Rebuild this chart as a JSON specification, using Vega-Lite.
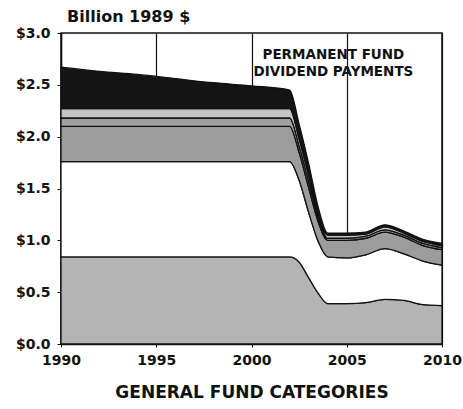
{
  "$schema": "https://vega.github.io/schema/vega-lite/v6.json",
  "width": 381,
  "height": 311,
  "autosize": {"type": "none"},
  "padding": {"left": 61, "top": 33, "right": 21, "bottom": 65},
  "background": "white",
  "config": {
    "view": {"stroke": "#111", "strokeWidth": 1.5},
    "font": "DejaVu Sans"
  },
  "title": {
    "text": "Billion 1989 $",
    "anchor": "start",
    "frame": "group",
    "dx": 6,
    "offset": 1,
    "font": "DejaVu Sans",
    "fontSize": 16,
    "fontWeight": "bold",
    "color": "#111"
  },
  "datasets": {
    "bands": [
      {"year": 1990, "cat": "A", "ord": 1, "v": 0.84},
      {"year": 1992, "cat": "A", "ord": 1, "v": 0.84},
      {"year": 1994, "cat": "A", "ord": 1, "v": 0.84},
      {"year": 1996, "cat": "A", "ord": 1, "v": 0.84},
      {"year": 1998, "cat": "A", "ord": 1, "v": 0.84},
      {"year": 2000, "cat": "A", "ord": 1, "v": 0.84},
      {"year": 2002, "cat": "A", "ord": 1, "v": 0.84},
      {"year": 2002.5, "cat": "A", "ord": 1, "v": 0.79},
      {"year": 2003, "cat": "A", "ord": 1, "v": 0.64},
      {"year": 2003.5, "cat": "A", "ord": 1, "v": 0.49},
      {"year": 2004, "cat": "A", "ord": 1, "v": 0.39},
      {"year": 2005, "cat": "A", "ord": 1, "v": 0.39},
      {"year": 2006, "cat": "A", "ord": 1, "v": 0.40},
      {"year": 2007, "cat": "A", "ord": 1, "v": 0.43},
      {"year": 2008, "cat": "A", "ord": 1, "v": 0.42},
      {"year": 2009, "cat": "A", "ord": 1, "v": 0.38},
      {"year": 2010, "cat": "A", "ord": 1, "v": 0.37},

      {"year": 1990, "cat": "B", "ord": 2, "v": 0.92},
      {"year": 1992, "cat": "B", "ord": 2, "v": 0.92},
      {"year": 1994, "cat": "B", "ord": 2, "v": 0.92},
      {"year": 1996, "cat": "B", "ord": 2, "v": 0.92},
      {"year": 1998, "cat": "B", "ord": 2, "v": 0.92},
      {"year": 2000, "cat": "B", "ord": 2, "v": 0.92},
      {"year": 2002, "cat": "B", "ord": 2, "v": 0.92},
      {"year": 2002.5, "cat": "B", "ord": 2, "v": 0.79},
      {"year": 2003, "cat": "B", "ord": 2, "v": 0.63},
      {"year": 2003.5, "cat": "B", "ord": 2, "v": 0.50},
      {"year": 2004, "cat": "B", "ord": 2, "v": 0.45},
      {"year": 2005, "cat": "B", "ord": 2, "v": 0.44},
      {"year": 2006, "cat": "B", "ord": 2, "v": 0.46},
      {"year": 2007, "cat": "B", "ord": 2, "v": 0.49},
      {"year": 2008, "cat": "B", "ord": 2, "v": 0.45},
      {"year": 2009, "cat": "B", "ord": 2, "v": 0.42},
      {"year": 2010, "cat": "B", "ord": 2, "v": 0.39},

      {"year": 1990, "cat": "C", "ord": 3, "v": 0.34},
      {"year": 1992, "cat": "C", "ord": 3, "v": 0.34},
      {"year": 1994, "cat": "C", "ord": 3, "v": 0.34},
      {"year": 1996, "cat": "C", "ord": 3, "v": 0.34},
      {"year": 1998, "cat": "C", "ord": 3, "v": 0.34},
      {"year": 2000, "cat": "C", "ord": 3, "v": 0.34},
      {"year": 2002, "cat": "C", "ord": 3, "v": 0.34},
      {"year": 2002.5, "cat": "C", "ord": 3, "v": 0.27},
      {"year": 2003, "cat": "C", "ord": 3, "v": 0.24},
      {"year": 2003.5, "cat": "C", "ord": 3, "v": 0.19},
      {"year": 2004, "cat": "C", "ord": 3, "v": 0.16},
      {"year": 2005, "cat": "C", "ord": 3, "v": 0.17},
      {"year": 2006, "cat": "C", "ord": 3, "v": 0.16},
      {"year": 2007, "cat": "C", "ord": 3, "v": 0.16},
      {"year": 2008, "cat": "C", "ord": 3, "v": 0.16},
      {"year": 2009, "cat": "C", "ord": 3, "v": 0.15},
      {"year": 2010, "cat": "C", "ord": 3, "v": 0.15},

      {"year": 1990, "cat": "D1", "ord": 4, "v": 0.08},
      {"year": 1992, "cat": "D1", "ord": 4, "v": 0.08},
      {"year": 1994, "cat": "D1", "ord": 4, "v": 0.08},
      {"year": 1996, "cat": "D1", "ord": 4, "v": 0.08},
      {"year": 1998, "cat": "D1", "ord": 4, "v": 0.08},
      {"year": 2000, "cat": "D1", "ord": 4, "v": 0.08},
      {"year": 2002, "cat": "D1", "ord": 4, "v": 0.08},
      {"year": 2002.5, "cat": "D1", "ord": 4, "v": 0.06},
      {"year": 2003, "cat": "D1", "ord": 4, "v": 0.06},
      {"year": 2003.5, "cat": "D1", "ord": 4, "v": 0.04},
      {"year": 2004, "cat": "D1", "ord": 4, "v": 0.02},
      {"year": 2005, "cat": "D1", "ord": 4, "v": 0.02},
      {"year": 2006, "cat": "D1", "ord": 4, "v": 0.02},
      {"year": 2007, "cat": "D1", "ord": 4, "v": 0.02},
      {"year": 2008, "cat": "D1", "ord": 4, "v": 0.02},
      {"year": 2009, "cat": "D1", "ord": 4, "v": 0.02},
      {"year": 2010, "cat": "D1", "ord": 4, "v": 0.02},

      {"year": 1990, "cat": "D2", "ord": 5, "v": 0.09},
      {"year": 1992, "cat": "D2", "ord": 5, "v": 0.09},
      {"year": 1994, "cat": "D2", "ord": 5, "v": 0.09},
      {"year": 1996, "cat": "D2", "ord": 5, "v": 0.09},
      {"year": 1998, "cat": "D2", "ord": 5, "v": 0.09},
      {"year": 2000, "cat": "D2", "ord": 5, "v": 0.09},
      {"year": 2002, "cat": "D2", "ord": 5, "v": 0.09},
      {"year": 2002.5, "cat": "D2", "ord": 5, "v": 0.07},
      {"year": 2003, "cat": "D2", "ord": 5, "v": 0.06},
      {"year": 2003.5, "cat": "D2", "ord": 5, "v": 0.04},
      {"year": 2004, "cat": "D2", "ord": 5, "v": 0.03},
      {"year": 2005, "cat": "D2", "ord": 5, "v": 0.03},
      {"year": 2006, "cat": "D2", "ord": 5, "v": 0.02},
      {"year": 2007, "cat": "D2", "ord": 5, "v": 0.03},
      {"year": 2008, "cat": "D2", "ord": 5, "v": 0.02},
      {"year": 2009, "cat": "D2", "ord": 5, "v": 0.02},
      {"year": 2010, "cat": "D2", "ord": 5, "v": 0.02},

      {"year": 1990, "cat": "E", "ord": 6, "v": 0.40},
      {"year": 1992, "cat": "E", "ord": 6, "v": 0.36},
      {"year": 1994, "cat": "E", "ord": 6, "v": 0.33},
      {"year": 1996, "cat": "E", "ord": 6, "v": 0.29},
      {"year": 1998, "cat": "E", "ord": 6, "v": 0.25},
      {"year": 2000, "cat": "E", "ord": 6, "v": 0.22},
      {"year": 2002, "cat": "E", "ord": 6, "v": 0.18},
      {"year": 2002.5, "cat": "E", "ord": 6, "v": 0.14},
      {"year": 2003, "cat": "E", "ord": 6, "v": 0.11},
      {"year": 2003.5, "cat": "E", "ord": 6, "v": 0.06},
      {"year": 2004, "cat": "E", "ord": 6, "v": 0.02},
      {"year": 2005, "cat": "E", "ord": 6, "v": 0.02},
      {"year": 2006, "cat": "E", "ord": 6, "v": 0.02},
      {"year": 2007, "cat": "E", "ord": 6, "v": 0.02},
      {"year": 2008, "cat": "E", "ord": 6, "v": 0.02},
      {"year": 2009, "cat": "E", "ord": 6, "v": 0.02},
      {"year": 2010, "cat": "E", "ord": 6, "v": 0.02}
    ],
    "notes": [
      {"t": "PERMANENT FUND", "x": 2004.3, "y": 2.79},
      {"t": "DIVIDEND PAYMENTS", "x": 2004.3, "y": 2.62}
    ]
  },
  "layer": [
    {
      "data": {"name": "bands"},
      "mark": {"type": "area", "interpolate": "monotone", "stroke": "#111", "strokeWidth": 1.3, "fillOpacity": 1},
      "encoding": {
        "x": {
          "field": "year", "type": "quantitative",
          "scale": {"domain": [1990, 2010], "nice": false, "zero": false},
          "axis": {
            "values": [1990, 1995, 2000, 2005, 2010],
            "format": "d",
            "title": "GENERAL FUND CATEGORIES",
            "titleFont": "DejaVu Sans", "titleFontSize": 17, "titleFontWeight": "bold", "titleColor": "#111",
            "titlePadding": 17,
            "labelFont": "DejaVu Sans", "labelFontSize": 14, "labelFontWeight": "bold", "labelColor": "#111",
            "labelPadding": 6,
            "domainColor": "#111", "domainWidth": 1.5,
            "tickColor": "#111", "tickSize": 3,
            "grid": true, "gridColor": "#111", "gridWidth": 1.2, "gridOpacity": 1,
            "labelFlush": false
          }
        },
        "y": {
          "field": "v", "type": "quantitative", "stack": "zero",
          "scale": {"domain": [0, 3], "nice": false},
          "axis": {
            "values": [0, 0.5, 1, 1.5, 2, 2.5, 3],
            "format": "$.1f",
            "title": null,
            "labelFont": "DejaVu Sans", "labelFontSize": 14, "labelFontWeight": "bold", "labelColor": "#111",
            "labelPadding": 7,
            "domainColor": "#111", "domainWidth": 1.5,
            "tickColor": "#111", "tickSize": 4,
            "grid": false
          }
        },
        "color": {
          "field": "cat", "type": "nominal", "legend": null,
          "scale": {"domain": ["A", "B", "C", "D1", "D2", "E"], "range": ["#b4b4b4", "#ffffff", "#9c9c9c", "#a0a0a0", "#c4c4c4", "#141414"]}
        },
        "order": {"field": "ord", "type": "quantitative"}
      }
    },
    {
      "data": {"name": "notes"},
      "mark": {"type": "text", "font": "DejaVu Sans", "fontSize": 13.5, "fontWeight": "bold", "color": "#111", "align": "center", "baseline": "middle"},
      "encoding": {
        "x": {"field": "x", "type": "quantitative"},
        "y": {"field": "y", "type": "quantitative"},
        "text": {"field": "t"}
      }
    }
  ]
}
